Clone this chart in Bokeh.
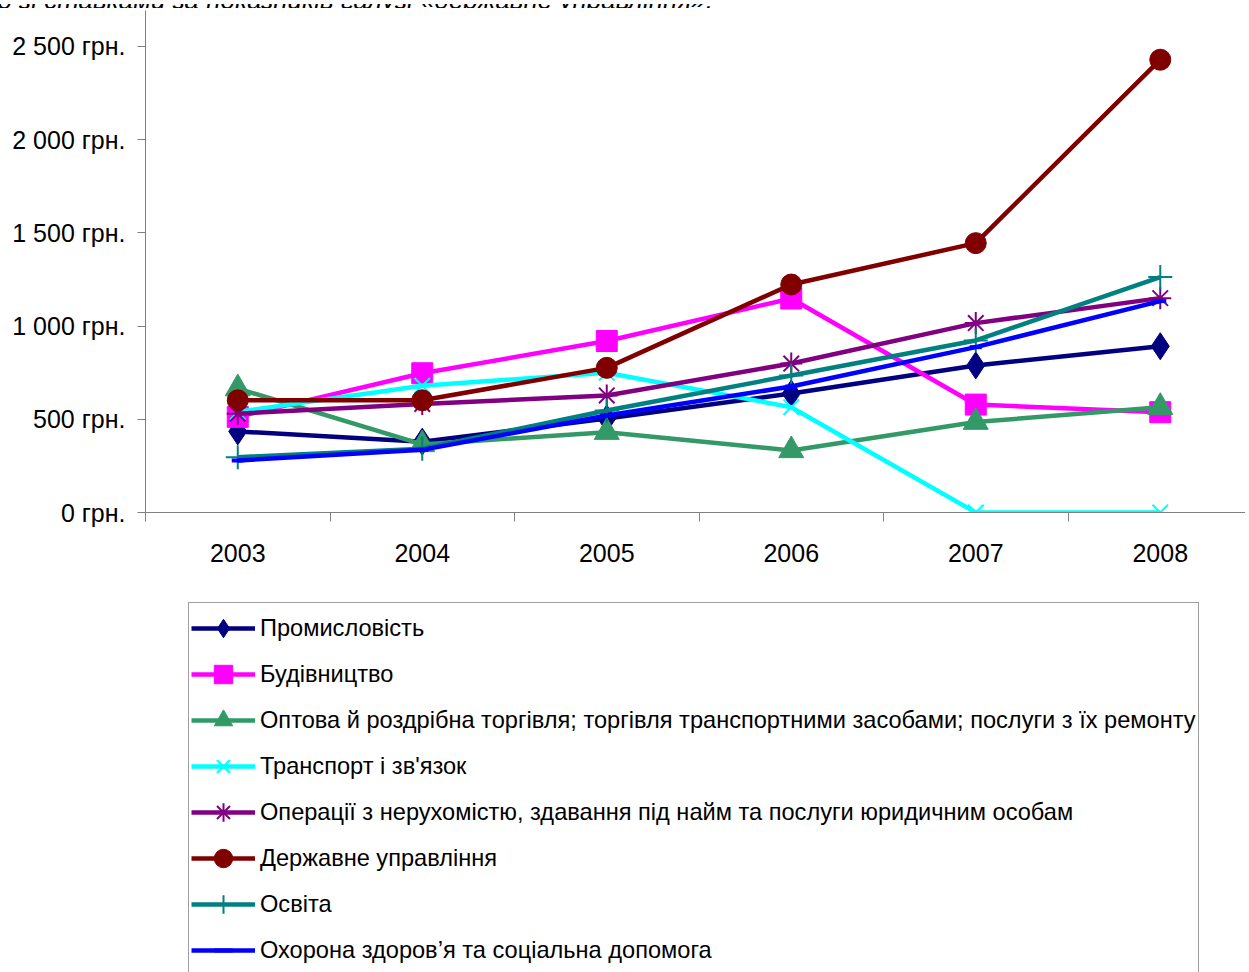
from bokeh.plotting import figure
from bokeh.models import FixedTicker, Legend, LegendItem, Range1d, Div
from bokeh.layouts import column
from bokeh.embed import file_html
from bokeh.resources import INLINE

years = ["2003", "2004", "2005", "2006", "2007", "2008"]
x_pos = [0, 1, 2, 3, 4, 5]

names = [
    "Промисловість",
    "Будівництво",
    "Оптова й роздрібна торгівля; торгівля транспортними засобами; послуги з їх ремонту",
    "Транспорт і зв'язок",
    "Операції з нерухомістю, здавання під найм та послуги юридичним особам",
    "Державне управління",
    "Освіта",
    "Охорона здоров’я та соціальна допомога",
]

promyslovist = [435, 380, 504, 638, 789, 892]
budivnytstvo = [513, 747, 920, 1148, 579, 538]
torhivlia = [665, 365, 431, 333, 485, 565]
transport = [540, 680, 750, 565, 0, 0]
neruhomist = [530, 582, 628, 799, 1016, 1150]
derzh_upr = [602, 602, 776, 1223, 1445, 2429]
osvita = [297, 342, 547, 735, 923, 1263]
ohorona = [279, 336, 520, 676, 887, 1134]

series = [promyslovist, budivnytstvo, torhivlia, transport, neruhomist,
          derzh_upr, osvita, ohorona]

y_ticks = [0, 500, 1000, 1500, 2000, 2500]
y_tick_labels = ["0 грн.", "500 грн.", "1 000 грн.", "1 500 грн.",
                 "2 000 грн.", "2 500 грн."]

caption = "порівняно зі ставками за показників галузі «державне управління»."

colors = ["#000080", "#FF00FF", "#339966", "#00FFFF", "#800080",
          "#800000", "#008080", "#0000FF"]
markers = ["diamond", "square", "triangle", "x", "asterisk",
           "circle", "cross", "dash"]
msizes = [27, 21, 25, 22, 22, 21, 24, 12]
filled = [True, True, True, False, False, True, False, False]

FONT = "Liberation Sans"


def add_series(fig):
    out = []
    for name, vals, c, m, s, f in zip(names, series, colors, markers,
                                      msizes, filled):
        ln = fig.line(x_pos, vals, line_color=c, line_width=4.5)
        sc = fig.scatter(x_pos, vals, marker=m, size=s, line_color=c,
                         fill_color=c if f else None,
                         line_width=1 if f else (4 if m == "dash" else 2))
        out.append((name, ln, sc))
    return out


# ---- main chart ----
p = figure(width=1245, height=582,
           x_range=Range1d(-0.5, 5.462), y_range=Range1d(0, 2693),
           output_backend="svg", toolbar_location=None,
           min_border_left=145, min_border_right=0,
           min_border_top=2, min_border_bottom=78, margin=0)
p.outline_line_color = None
p.xgrid.visible = False
p.ygrid.visible = False
p.background_fill_color = "white"
p.border_fill_color = "white"

ya = p.yaxis[0]
ya.ticker = FixedTicker(ticks=y_ticks)
ya.major_label_overrides = {t: l for t, l in zip(y_ticks, y_tick_labels)}
ya.axis_line_color = "#808080"
ya.major_tick_line_color = "#808080"
ya.major_tick_out = 8
ya.major_tick_in = 0
ya.minor_tick_out = 0
ya.minor_tick_in = 0
ya.major_label_standoff = 12
ya.major_label_text_font = FONT
ya.major_label_text_font_size = "25px"
ya.major_label_text_color = "black"

xa = p.xaxis[0]
xa.ticker = FixedTicker(ticks=x_pos,
                        minor_ticks=[-0.5, 0.5, 1.5, 2.5, 3.5, 4.5, 5.5])
xa.major_label_overrides = {x: y for x, y in zip(x_pos, years)}
xa.axis_line_color = "#808080"
xa.major_tick_out = 0
xa.major_tick_in = 0
xa.minor_tick_line_color = "#808080"
xa.minor_tick_out = 9
xa.minor_tick_in = 0
xa.major_label_standoff = 22
xa.major_label_text_font = FONT
xa.major_label_text_font_size = "25px"
xa.major_label_text_color = "black"

add_series(p)

# ---- legend panel (same series, plotted out of view so only the key shows) ----
pl = figure(width=1245, height=382,
            x_range=Range1d(100, 101), y_range=Range1d(0, 2693),
            x_axis_type=None, y_axis_type=None,
            output_backend="svg", toolbar_location=None,
            min_border_left=0, min_border_right=0,
            min_border_top=0, min_border_bottom=0, margin=0)
pl.outline_line_color = None
pl.xgrid.visible = False
pl.ygrid.visible = False
pl.border_fill_color = "white"
pl.background_fill_color = "white"

items = [LegendItem(label=n, renderers=[ln, sc])
         for n, ln, sc in add_series(pl)]
legend = Legend(items=items, location=(43, -4),
                glyph_width=64, glyph_height=46, label_height=46,
                spacing=0, padding=2, label_standoff=5, margin=0,
                label_text_font=FONT, label_text_font_size="23.6px",
                label_text_color="black",
                border_line_color="#404040", border_line_width=1,
                background_fill_color="white", background_fill_alpha=1)
pl.add_layout(legend)

# ---- caption fragment at the very top (cut off as in the source) ----
cap_html = (
    '<div style="position:relative;width:1245px;height:8px;overflow:hidden">'
    '<div style="position:absolute;right:532px;top:-17px;white-space:nowrap;'
    "font-family:'Liberation Sans';font-style:italic;font-size:26px;"
    'line-height:26px;color:black">' + caption + '</div></div>'
)
cap = Div(text=cap_html, width=1245, height=8, margin=0,
          styles={"overflow": "hidden"})

layout = column(cap, p, pl, spacing=0, margin=0)

open("out.html", "w").write(file_html(layout, INLINE))
